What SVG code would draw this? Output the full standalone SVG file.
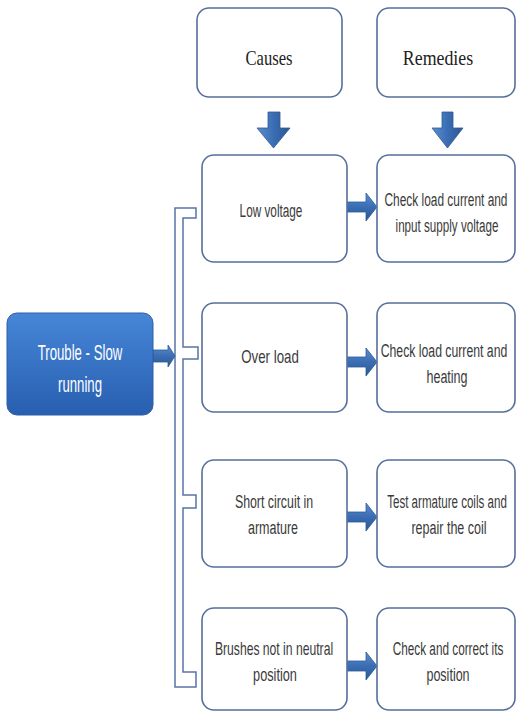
<svg xmlns="http://www.w3.org/2000/svg" width="517" height="713" viewBox="0 0 517 713">
<defs>
<linearGradient id="gBlue" x1="0" y1="0" x2="0" y2="1">
<stop offset="0" stop-color="#4786d8"/>
<stop offset="1" stop-color="#285fb0"/>
</linearGradient>
<linearGradient id="gArrowH" x1="0" y1="0" x2="0" y2="1">
<stop offset="0" stop-color="#5b8fd0"/>
<stop offset="0.5" stop-color="#3a6db3"/>
<stop offset="1" stop-color="#2c5894"/>
</linearGradient>
<linearGradient id="gArrowV" x1="0" y1="0" x2="1" y2="0">
<stop offset="0" stop-color="#5b8fd0"/>
<stop offset="0.5" stop-color="#3a6db3"/>
<stop offset="1" stop-color="#2c5894"/>
</linearGradient>
<style>
.box{fill:#ffffff;stroke:#566f9c;stroke-width:1.6}
.t{font-family:"Liberation Sans",Arial,sans-serif;font-size:19px;fill:#3a3a3a;text-anchor:middle}
.h{font-family:"Liberation Serif","Times New Roman",serif;font-size:21px;fill:#222222;text-anchor:middle}
.w{font-family:"Liberation Sans",Arial,sans-serif;font-size:22px;fill:#ffffff;text-anchor:middle}
.arr{fill:url(#gArrowH);stroke:#2d5a96;stroke-width:0.8}
.arrv{fill:url(#gArrowV);stroke:#2d5a96;stroke-width:0.8}
.br{fill:#ffffff;stroke:#5a74a8;stroke-width:1.5}
</style>
</defs>
<rect width="517" height="713" fill="#ffffff"/>

<g id="connectors">
<path class="br" d="M175,208 H196 V218 H183 V347 H198 V359 H183 V495 H196 V508 H183 V672 H196 V687 H175 Z"/>
<polygon class="arr" points="153,350 168,350 168,345 175,356 168,367 168,362 153,362"/>
<polygon class="arrv" points="268,112 280,112 280,128 290,128 273.5,148 257,128 268,128"/>
<polygon class="arrv" points="442,112 453,112 453,128 463,128 447.5,148 432,128 442,128"/>
<polygon class="arr" points="345,202 366,202 366,193 377,207 366,221 366,212 345,212"/>
<polygon class="arr" points="345,357 366,357 366,348 377,362 366,376 366,367 345,367"/>
<polygon class="arr" points="345,512 366,512 366,503 377,517 366,531 366,522 345,522"/>
<polygon class="arr" points="345,661 366,661 366,652 377,666 366,680 366,671 345,671"/>
</g>

<g id="trouble">
<rect x="7" y="313" width="146" height="102" rx="10" fill="url(#gBlue)" stroke="#2c5ea6" stroke-width="1"/>
<text class="w" transform="translate(80,360) scale(0.6,1)">Trouble - Slow</text>
<text class="w" transform="translate(80,392) scale(0.6,1)">running</text>
</g>

<g id="causes">
<rect class="box" x="197" y="8" width="145" height="89" rx="12"/>
<text class="h" transform="translate(269,65) scale(0.79,1)">Causes</text>
</g>
<g id="remedies">
<rect class="box" x="377" y="8" width="138" height="89" rx="12"/>
<text class="h" transform="translate(438,65) scale(0.85,1)">Remedies</text>
</g>

<g id="cause1">
<rect class="box" x="202" y="155" width="145" height="107" rx="12"/>
<text class="t" transform="translate(271,217) scale(0.62,1)">Low voltage</text>
</g>
<g id="remedy1">
<rect class="box" x="377" y="155" width="138" height="107" rx="12"/>
<text class="t" transform="translate(446,206) scale(0.626,1)">Check load current and</text>
<text class="t" transform="translate(447,232) scale(0.613,1)">input supply voltage</text>
</g>

<g id="cause2">
<rect class="box" x="202" y="303" width="145" height="109" rx="12"/>
<text class="t" transform="translate(270,363) scale(0.7,1)">Over load</text>
</g>
<g id="remedy2">
<rect class="box" x="377" y="303" width="138" height="109" rx="12"/>
<text class="t" transform="translate(444,357) scale(0.645,1)">Check load current and</text>
<text class="t" transform="translate(447,383) scale(0.66,1)">heating</text>
</g>

<g id="cause3">
<rect class="box" x="202" y="460" width="145" height="107" rx="12"/>
<text class="t" transform="translate(274,508) scale(0.65,1)">Short circuit in</text>
<text class="t" transform="translate(273,534) scale(0.66,1)">armature</text>
</g>
<g id="remedy3">
<rect class="box" x="377" y="460" width="138" height="107" rx="12"/>
<text class="t" transform="translate(447,508) scale(0.61,1)">Test armature coils and</text>
<text class="t" transform="translate(449,534) scale(0.66,1)">repair the coil</text>
</g>

<g id="cause4">
<rect class="box" x="202" y="608" width="145" height="102" rx="12"/>
<text class="t" transform="translate(274,655) scale(0.64,1)">Brushes not in neutral</text>
<text class="t" transform="translate(275,681) scale(0.67,1)">position</text>
</g>
<g id="remedy4">
<rect class="box" x="377" y="608" width="138" height="102" rx="12"/>
<text class="t" transform="translate(448,655) scale(0.62,1)">Check and correct its</text>
<text class="t" transform="translate(448,681) scale(0.66,1)">position</text>
</g>
</svg>
